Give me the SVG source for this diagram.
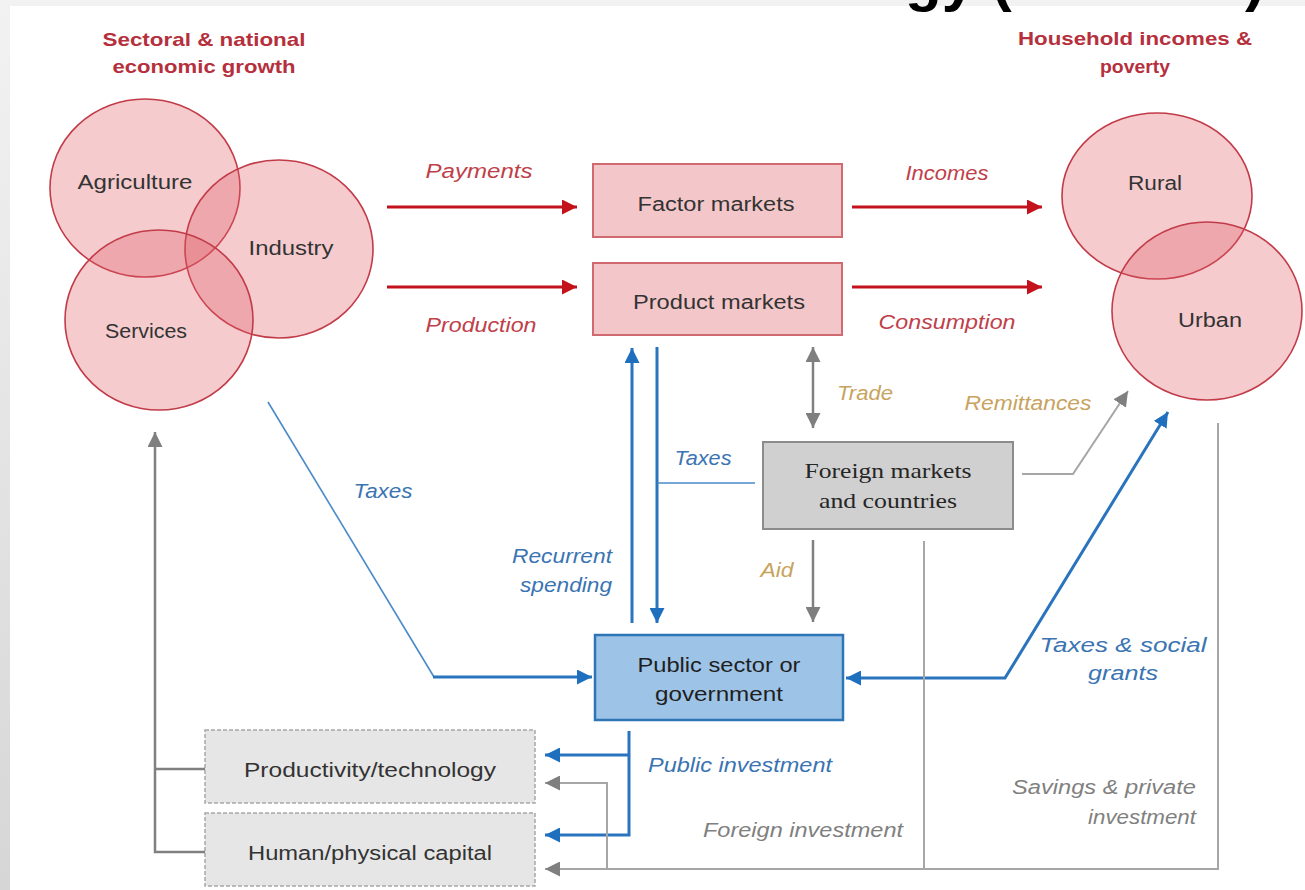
<svg xmlns="http://www.w3.org/2000/svg" width="1305" height="890" viewBox="0 0 1305 890">
<defs>
<linearGradient id="lband" x1="0" y1="0" x2="0" y2="1"><stop offset="0" stop-color="#f2f2f2"/><stop offset="1" stop-color="#d6d6d6"/></linearGradient>
<marker id="aRed" viewBox="0 0 10 10" refX="10" refY="5" markerUnits="userSpaceOnUse" markerWidth="17" markerHeight="15" orient="auto"><path d="M0,0 L10,5 L0,10 z" fill="#c4121c"/></marker>
<marker id="aBlue" viewBox="0 0 10 10" refX="10" refY="5" markerUnits="userSpaceOnUse" markerWidth="15" markerHeight="15" orient="auto-start-reverse"><path d="M0,0 L10,5 L0,10 z" fill="#1f6fbf"/></marker>
<marker id="aGray" viewBox="0 0 10 10" refX="10" refY="5" markerUnits="userSpaceOnUse" markerWidth="15" markerHeight="15" orient="auto-start-reverse"><path d="M0,0 L10,5 L0,10 z" fill="#7f7f7f"/></marker>
</defs>
<style>
text{font-family:"Liberation Sans",Arial,sans-serif;}
.title{font-size:19px;font-weight:bold;fill:#b5303c;text-anchor:middle;}
.lbl{font-size:20px;fill:#333333;text-anchor:middle;}
.serif{font-family:"Liberation Serif","Times New Roman",serif;font-size:21px;fill:#262626;text-anchor:middle;}
.it{font-size:20px;font-style:italic;text-anchor:middle;}
.red{fill:#c0404a;}
.blue{fill:#3a74b2;}
.gold{fill:#c8a35e;}
.gray{fill:#808080;}
.circ{fill:#e05c66;fill-opacity:0.32;stroke:#c23b48;stroke-width:1.6;}
.pbox{fill:#f3c7c9;stroke:#d06a70;stroke-width:2;}
.gbox{fill:#e6e6e6;stroke:#a8a8a8;stroke-width:1.5;stroke-dasharray:4 2;}
.rline{fill:none;stroke:#c4121c;stroke-width:3;}
.bline{fill:none;stroke:#2a74bd;stroke-width:3;}
.bthin{fill:none;stroke:#4a8ac8;stroke-width:1.6;}
.gline{fill:none;stroke:#808080;stroke-width:2.5;}
.glight{fill:none;stroke:#a6a6a6;stroke-width:2;}
</style>
<rect x="0" y="0" width="1305" height="890" fill="#ffffff"/>
<rect x="0" y="0" width="1305" height="6" fill="#f2f2f2"/>
<rect x="0" y="0" width="10" height="890" fill="url(#lband)"/>
<text x="905" y="0" style="font-size:60px;font-weight:bold;fill:#000000;">gy (</text>
<text x="1245" y="0" style="font-size:60px;font-weight:bold;fill:#000000;">)</text>

<g id="titles">
<text class="title" x="204" y="46" textLength="203" lengthAdjust="spacingAndGlyphs">Sectoral &amp; national</text>
<text class="title" x="204" y="73" textLength="183" lengthAdjust="spacingAndGlyphs">economic growth</text>
<text class="title" x="1135" y="45" textLength="234" lengthAdjust="spacingAndGlyphs">Household incomes &amp;</text>
<text class="title" x="1135" y="73" textLength="70" lengthAdjust="spacingAndGlyphs">poverty</text>
</g>

<g id="agriculture"><ellipse class="circ" cx="145" cy="188" rx="95" ry="89"/></g>
<g id="industry"><ellipse class="circ" cx="279" cy="249" rx="94" ry="89"/></g>
<g id="services"><ellipse class="circ" cx="159" cy="320" rx="94" ry="90"/></g>
<g id="sector-labels">
<text class="lbl" x="135" y="189" textLength="115" lengthAdjust="spacingAndGlyphs">Agriculture</text>
<text class="lbl" x="291" y="255" textLength="85" lengthAdjust="spacingAndGlyphs">Industry</text>
<text class="lbl" x="146" y="338" textLength="82" lengthAdjust="spacingAndGlyphs">Services</text>
</g>

<g id="rural"><ellipse class="circ" cx="1157" cy="196" rx="95" ry="83"/></g>
<g id="urban"><ellipse class="circ" cx="1207" cy="311" rx="95" ry="89"/></g>
<g id="household-labels">
<text class="lbl" x="1155" y="190" textLength="54" lengthAdjust="spacingAndGlyphs">Rural</text>
<text class="lbl" x="1210" y="327" textLength="64" lengthAdjust="spacingAndGlyphs">Urban</text>
</g>

<g id="factor-markets">
<rect class="pbox" x="593" y="164" width="249" height="73"/>
<text class="lbl" x="716" y="211" textLength="157" lengthAdjust="spacingAndGlyphs">Factor markets</text>
</g>
<g id="product-markets">
<rect class="pbox" x="593" y="263" width="249" height="72"/>
<text class="lbl" x="719" y="309" textLength="172" lengthAdjust="spacingAndGlyphs">Product markets</text>
</g>

<g id="foreign-markets">
<rect x="763" y="442" width="250" height="87" fill="#d0d0d0" stroke="#8c8c8c" stroke-width="2"/>
<text class="serif" x="888" y="478" textLength="167" lengthAdjust="spacingAndGlyphs">Foreign markets</text>
<text class="serif" x="888" y="508" textLength="138" lengthAdjust="spacingAndGlyphs">and countries</text>
</g>

<g id="public-sector">
<rect x="595" y="635" width="248" height="85" fill="#9dc3e6" stroke="#2e75b6" stroke-width="2.5"/>
<text class="lbl" x="719" y="672" textLength="163" lengthAdjust="spacingAndGlyphs" style="fill:#1f1f1f">Public sector or</text>
<text class="lbl" x="719" y="701" textLength="128" lengthAdjust="spacingAndGlyphs" style="fill:#1f1f1f">government</text>
</g>

<g id="productivity">
<rect class="gbox" x="205" y="730" width="330" height="73"/>
<text class="lbl" x="370" y="777" textLength="252" lengthAdjust="spacingAndGlyphs">Productivity/technology</text>
</g>
<g id="human-capital">
<rect class="gbox" x="205" y="813" width="330" height="73"/>
<text class="lbl" x="370" y="860" textLength="244" lengthAdjust="spacingAndGlyphs">Human/physical capital</text>
</g>

<g id="connectors">
<line class="rline" x1="387" y1="207" x2="577" y2="207" marker-end="url(#aRed)"/>
<line class="rline" x1="387" y1="287" x2="577" y2="287" marker-end="url(#aRed)"/>
<line class="rline" x1="852" y1="207" x2="1042" y2="207" marker-end="url(#aRed)"/>
<line class="rline" x1="852" y1="287" x2="1042" y2="287" marker-end="url(#aRed)"/>

<line class="gline" x1="813" y1="347" x2="813" y2="428" marker-start="url(#aGray)" marker-end="url(#aGray)"/>
<line class="gline" x1="813" y1="540" x2="813" y2="622" marker-end="url(#aGray)"/>
<polyline class="glight" points="1022,474 1073,474 1128,391" marker-end="url(#aGray)"/>

<line class="bline" x1="632" y1="623" x2="632" y2="348" marker-end="url(#aBlue)"/>
<line class="bline" x1="657" y1="347" x2="657" y2="623" marker-end="url(#aBlue)"/>
<line class="bthin" x1="657" y1="483" x2="755" y2="483"/>

<polyline class="bthin" points="268,402 434,677"/>
<line class="bline" x1="433" y1="677" x2="592" y2="677" marker-end="url(#aBlue)"/>

<polyline class="bline" points="846,678 1005,678 1168,412" marker-start="url(#aBlue)" marker-end="url(#aBlue)"/>

<polyline class="bline" points="629,731 629,835 545,835" marker-end="url(#aBlue)"/>
<line class="bline" x1="629" y1="755" x2="545" y2="755" marker-end="url(#aBlue)"/>

<polyline class="glight" points="1218,423 1218,869 545,869" marker-end="url(#aGray)"/>
<line class="glight" x1="924" y1="541" x2="924" y2="869"/>
<polyline class="glight" points="607,869 607,783 545,783" marker-end="url(#aGray)"/>

<polyline class="gline" points="205,852 155,852 155,432" marker-end="url(#aGray)"/>
<line class="gline" x1="205" y1="769" x2="155" y2="769"/>
</g>

<g id="connector-labels">
<text class="it red" x="479" y="178" textLength="107" lengthAdjust="spacingAndGlyphs">Payments</text>
<text class="it red" x="481" y="332" textLength="111" lengthAdjust="spacingAndGlyphs">Production</text>
<text class="it red" x="947" y="180" textLength="83" lengthAdjust="spacingAndGlyphs">Incomes</text>
<text class="it red" x="947" y="329" textLength="137" lengthAdjust="spacingAndGlyphs">Consumption</text>
<text class="it gold" x="865" y="400" textLength="56" lengthAdjust="spacingAndGlyphs">Trade</text>
<text class="it gold" x="1028" y="410" textLength="127" lengthAdjust="spacingAndGlyphs">Remittances</text>
<text class="it gold" x="777" y="577" textLength="33" lengthAdjust="spacingAndGlyphs">Aid</text>
<text class="it blue" x="703" y="465" textLength="57" lengthAdjust="spacingAndGlyphs">Taxes</text>
<text class="it blue" x="383" y="498" textLength="59" lengthAdjust="spacingAndGlyphs">Taxes</text>
<text class="it blue" x="612" y="563" style="text-anchor:end" textLength="100" lengthAdjust="spacingAndGlyphs">Recurrent</text>
<text class="it blue" x="612" y="592" style="text-anchor:end" textLength="92" lengthAdjust="spacingAndGlyphs">spending</text>
<text class="it blue" x="1123" y="652" textLength="167" lengthAdjust="spacingAndGlyphs">Taxes &amp; social</text>
<text class="it blue" x="1123" y="680" textLength="70" lengthAdjust="spacingAndGlyphs">grants</text>
<text class="it blue" x="740" y="772" textLength="184" lengthAdjust="spacingAndGlyphs">Public investment</text>
<text class="it gray" x="803" y="837" textLength="200" lengthAdjust="spacingAndGlyphs">Foreign investment</text>
<text class="it gray" x="1196" y="794" style="text-anchor:end" textLength="184" lengthAdjust="spacingAndGlyphs">Savings &amp; private</text>
<text class="it gray" x="1196" y="824" style="text-anchor:end" textLength="108" lengthAdjust="spacingAndGlyphs">investment</text>
</g>
</svg>
